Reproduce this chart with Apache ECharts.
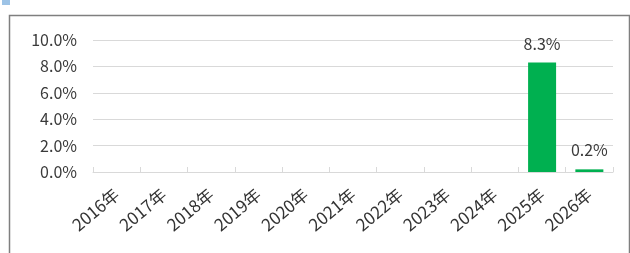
<!DOCTYPE html>
<html><head><meta charset="utf-8">
<script src="https://cdn.jsdelivr.net/npm/echarts@6/dist/echarts.min.js"></script>
<style>html,body{margin:0;padding:0;background:#fff;}#c{width:630px;height:253px;}</style>
</head><body><div id="c"></div>
<script>
const categories = ['2016年','2017年','2018年','2019年','2020年','2021年','2022年','2023年','2024年','2025年','2026年'];
const growthValues = [null,null,null,null,null,null,null,null,null,8.3,0.2];
const yTicks = {min:0, max:10, interval:2};

const chart = echarts.init(document.getElementById('c'), null, {renderer:'canvas'});
const font = '"Microsoft YaHei","Noto Sans CJK SC",sans-serif';
chart.setOption({
  animation:false,
  backgroundColor:'#fff',
  graphic:[
    {type:'rect', left:7, top:13, shape:{width:620, height:260}, style:{fill:'none', stroke:'#7f7f7f', lineWidth:1.5}},
    {type:'rect', left:2, top:0, shape:{width:8, height:5}, style:{fill:'#9dc3e6'}}
  ],
  grid:{left:93, right:17, top:40, bottom:81},
  xAxis:{
    type:'category', data:categories,
    axisLine:{show:true, lineStyle:{color:'#d9d9d9'}},
    axisTick:{show:true, inside:true, length:5, lineStyle:{color:'#d9d9d9'}},
    axisLabel:{rotate:40, margin:20, color:'#333', fontSize:17, fontFamily:font}
  },
  yAxis:{
    type:'value', min:yTicks.min, max:yTicks.max, interval:yTicks.interval,
    axisLine:{show:false}, axisTick:{show:false},
    axisLabel:{margin:16, color:'#3a3a3a', fontSize:16, fontFamily:font,
      formatter:v=>v.toFixed(1)+'%'},
    splitLine:{lineStyle:{color:'#d9d9d9'}}
  },
  series:[{
    type:'bar', data:growthValues, barWidth:28,
    itemStyle:{color:'#00b050'},
    label:{show:true, position:'top', distance:11, color:'#3a3a3a', fontSize:16, fontFamily:font,
      formatter:p=>p.value==null?'':p.value.toFixed(1)+'%'}
  }]
});
</script></body></html>
